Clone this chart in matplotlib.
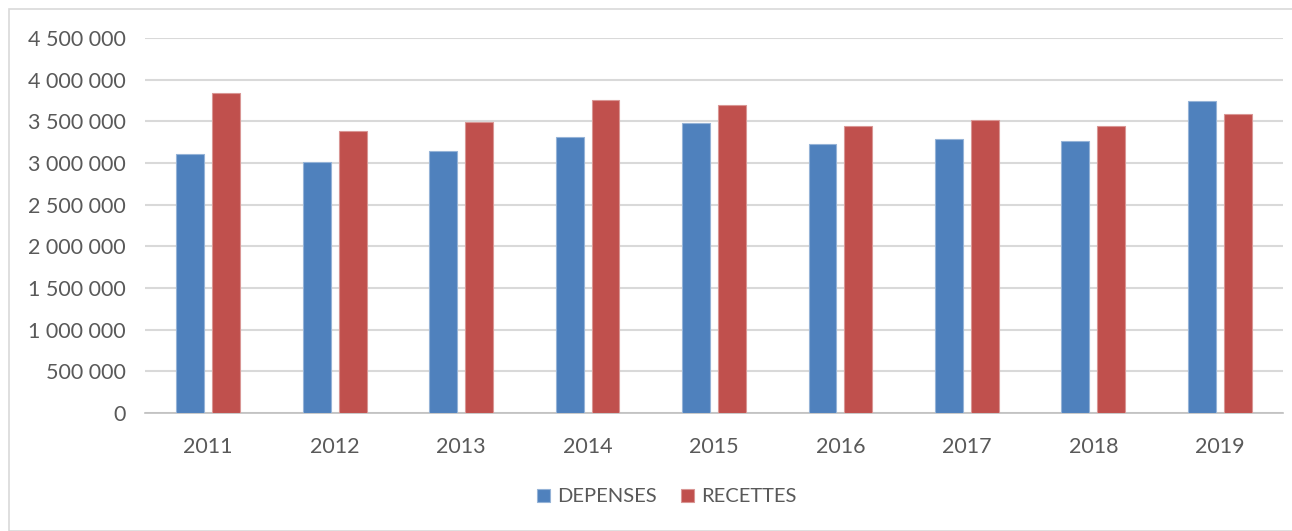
import numpy as np
import matplotlib
matplotlib.use("Agg")
from matplotlib import pyplot as plt
from matplotlib.patches import Rectangle

years = ["2011", "2012", "2013", "2014", "2015", "2016", "2017", "2018", "2019"]
depenses = [3108000, 3012000, 3144000, 3312000, 3480000, 3228000, 3288000, 3264000, 3744000]
recettes = [3840000, 3384000, 3492000, 3756000, 3696000, 3444000, 3516000, 3444000, 3588000]
y_ticks = [0, 500000, 1000000, 1500000, 2000000, 2500000, 3000000, 3500000, 4000000, 4500000]

plt.rcParams['font.family'] = ['Lato', 'DejaVu Sans']

fig = plt.figure(figsize=(12.92, 5.31), dpi=100)
ax = fig.add_axes([145 / 1292, 1 - 413 / 531, (1283 - 145) / 1292, (413 - 38) / 531])

# outer frame of the chart area
fig.patches.append(Rectangle((9 / 1292, 0), 1.0, 1 - 9 / 531, transform=fig.transFigure,
                             facecolor='none', edgecolor='#D9D9D9', linewidth=1.2))

x = np.arange(len(years))
w = 0.22
ax.bar(x - 0.142, depenses, width=w, color='#4F81BD', edgecolor='#95B3D7', linewidth=0.8,
       label='DEPENSES', zorder=3)
ax.bar(x + 0.142, recettes, width=w, color='#C0504D', edgecolor='#D99694', linewidth=0.8,
       label='RECETTES', zorder=3)

ax.set_xlim(-0.5, len(years) - 0.5)
ax.set_ylim(0, 4500000)
ax.set_yticks(y_ticks)
ax.set_yticklabels(['{:,}'.format(v).replace(',', ' ') for v in y_ticks])
ax.set_xticks(x)
ax.set_xticklabels(years)
ax.yaxis.grid(True, color='#D9D9D9', linewidth=1.5, zorder=0)
ax.set_axisbelow(True)
for s in ['top', 'right', 'left']:
    ax.spines[s].set_visible(False)
ax.spines['bottom'].set_color('#BFBFBF')
ax.spines['bottom'].set_linewidth(1.2)
ax.tick_params(axis='both', length=0, labelsize=15.5, colors='#595959')
ax.tick_params(axis='y', pad=14)
ax.tick_params(axis='x', pad=17)

fig.legend(loc='center', bbox_to_anchor=(667 / 1292, 1 - 497 / 531), ncol=2, frameon=False,
           fontsize=14.5, labelcolor='#595959', handlelength=0.65, handleheight=0.65,
           handletextpad=0.35, columnspacing=1.2)

fig.savefig('out.png', dpi=100)
